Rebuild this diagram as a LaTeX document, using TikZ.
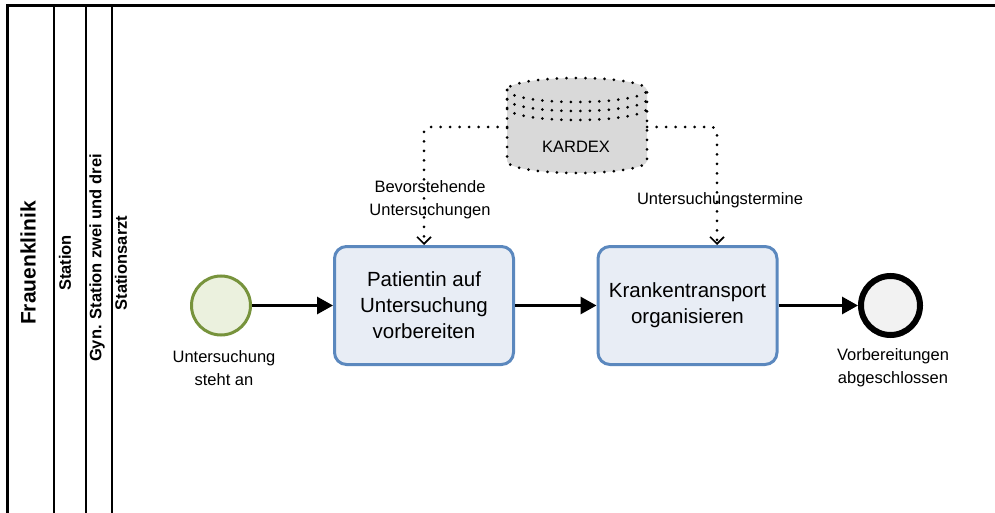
\documentclass[tikz,border=0pt]{standalone}
\usepackage{fontspec}
\setmainfont{Liberation Sans}
\usetikzlibrary{arrows.meta,positioning}
\definecolor{taskfill}{RGB}{232,237,245}
\definecolor{taskline}{RGB}{91,136,190}
\definecolor{startfill}{RGB}{235,241,222}
\definecolor{startline}{RGB}{119,147,60}
\definecolor{endfill}{RGB}{242,242,242}
\definecolor{storefill}{RGB}{217,217,217}

\begin{document}
\begin{tikzpicture}[x=1pt, y=-1pt,
		task/.style={draw=taskline, line width=3pt, fill=taskfill, rounded corners=12pt,
				minimum width=179pt, minimum height=118pt, align=center,
				font=\fontsize{20.5}{26}\selectfont},
		evstart/.style={circle, draw=startline, line width=3pt, fill=startfill, minimum size=59pt},
		evend/.style={circle, draw=black, line width=6pt, fill=endfill, minimum size=59pt},
		evlabel/.style={align=center, font=\fontsize{16.5}{23}\selectfont},
		lanelabel/.style={rotate=90, font=\fontsize{16.5}{20}\selectfont\bfseries},
		flow/.style={line width=3pt, -{Triangle[length=16pt,width=17pt]}},
		dots/.style={line width=3pt, line cap=round, dash pattern=on 0pt off 9.5pt},
		assoc/.style={dots, rounded corners=5pt, -{Straight Barb[length=7pt,width=14pt,line width=1.6pt]}}]

	% --- Canvas ---
	\clip (0,0) rectangle (995,513);

	% =============================================
	%  POOL AND LANES
	% =============================================

	\draw[line width=3pt] (7,520) -- (7,6) -- (1000,6);
	\foreach \lx in {54,86,112} {
			\draw[line width=1.3pt] (\lx,6) -- (\lx,520);
		}

	\node[lanelabel, font=\fontsize{21}{24}\selectfont\bfseries] (pool) at (28,263) {Frauenklinik};
	\node[lanelabel] (laneA) at (65,263) {Station};
	\node[lanelabel] (laneB) at (97,258) {Gyn. Station zwei und drei};
	\node[lanelabel] (laneC) at (121,263) {Stationsarzt};

	% =============================================
	%  EVENTS AND TASKS
	% =============================================

	\node[evstart] (start) at (221,305.5) {};
	\node[evlabel] (startlbl) at (224,368) {Untersuchung\\steht an};

	\node[task] (task1) at (424,305.5) {Patientin auf\\Untersuchung\\vorbereiten};
	\node[task] (task2) at (687.5,305.5) {Krankentransport\\organisieren};

	\node[evend] (end) at (890.5,305.5) {};
	\node[evlabel] (endlbl) at (893,368) {Vorbereitungen\\abgeschlossen};

	% Sequence flows
	\draw[flow] (start) -- (task1);
	\draw[flow] (task1) -- (task2);
	\draw[flow] (task2) -- (end);

	% =============================================
	%  DATA STORE
	% =============================================

	\node[minimum width=140pt, minimum height=92pt, inner sep=0pt, outer sep=0pt] (kardex) at (577,127) {};
	\filldraw[dots, fill=storefill]
	(507,90) -- (507,161) arc (180:0:70 and 12) -- (647,90) arc (0:-180:70 and 12) -- cycle;
	\foreach \ry in {90,99,108} {
			\draw[dots] (507,\ry) arc (180:0:70 and 12);
		}
	\node[font=\fontsize{16.5}{20}\selectfont] (kardexlbl) at (576,147) {KARDEX};

	% Data associations
	\coordinate (task2in) at ([xshift=29.5pt]task2.north);
	\draw[assoc] (kardex.west) -| (task1.north);
	\draw[assoc] (kardex.east) -| (task2in);
	\node[evlabel] (assoclblA) at (430,199.5) {Bevorstehende\\Untersuchungen};
	\node[evlabel] (assoclblB) at (720,200) {Untersuchungstermine};

\end{tikzpicture}
\end{document}
